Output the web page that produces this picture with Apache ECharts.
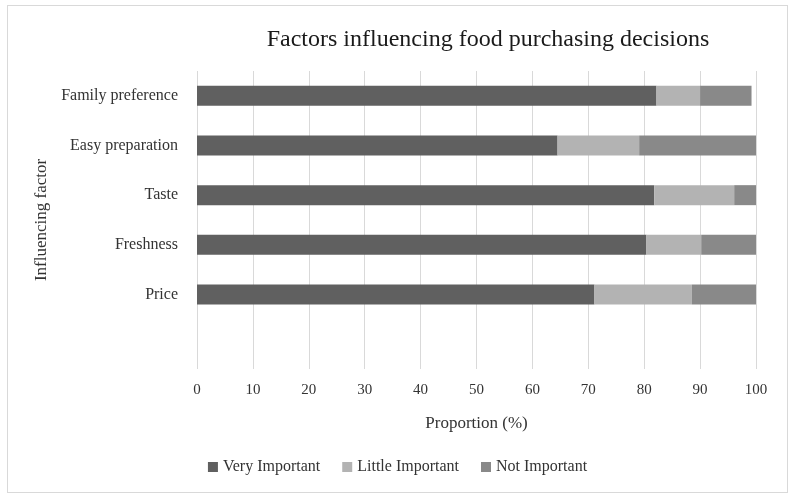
<!DOCTYPE html>
<html>
<head>
<meta charset="utf-8">
<script src="https://cdn.jsdelivr.net/npm/echarts@6/dist/echarts.min.js"></script>
<style>
  html, body { margin: 0; padding: 0; background: #fff; }
  #frame { position: absolute; left: 7px; top: 5px; width: 779px; height: 486px; border: 1px solid #d9d9d9; }
  #chart { width: 795px; height: 499px; }
</style>
</head>
<body>
<div id="frame"></div>
<div id="chart"></div>
<script>
// bottom category is an empty row, as in the original sheet
const factors = ['', 'Price', 'Freshness', 'Taste', 'Easy preparation', 'Family preference'];
const veryImportant = ['-', 71.1, 80.4, 81.8, 64.5, 82.2];
const littleImportant = ['-', 17.4, 9.8, 14.3, 14.6, 7.8];
const notImportant = ['-', 11.5, 9.8, 3.9, 20.9, 9.2];
const xTicks = [0, 10, 20, 30, 40, 50, 60, 70, 80, 90, 100];

const font = 'Liberation Serif';
let chart = echarts.init(document.getElementById('chart'));

let option = {
  backgroundColor: 'transparent',
  title: {
    text: 'Factors influencing food purchasing decisions',
    left: 483,
    top: 23,
    textAlign: 'center',
    textStyle: { fontFamily: font, fontSize: 24, fontWeight: 'normal', color: '#1a1a1a' }
  },
  legend: {
    data: ['Very Important', 'Little Important', 'Not Important'],
    left: 'center',
    top: 454,
    itemWidth: 10,
    itemHeight: 10,
    itemGap: 22,
    icon: 'rect',
    textStyle: { fontFamily: font, fontSize: 16, color: '#333' }
  },
  grid: { left: 197, right: 39, top: 71, bottom: 130 },
  xAxis: {
    type: 'value',
    min: xTicks[0],
    max: xTicks[xTicks.length - 1],
    interval: 10,
    name: 'Proportion (%)',
    nameLocation: 'middle',
    nameGap: 46,
    nameTextStyle: { fontFamily: font, fontSize: 17, color: '#333' },
    axisLine: { show: false },
    axisTick: { show: false },
    axisLabel: { fontFamily: font, fontSize: 15, color: '#333', margin: 14 },
    splitLine: { lineStyle: { color: '#d9d9d9', width: 1 } }
  },
  yAxis: {
    type: 'category',
    data: factors,
    name: 'Influencing factor',
    nameLocation: 'middle',
    nameGap: 146,
    nameTextStyle: { fontFamily: font, fontSize: 17, color: '#333' },
    axisLine: { show: false },
    axisTick: { show: false },
    axisLabel: { fontFamily: font, fontSize: 16, color: '#333', margin: 19 }
  },
  series: [
    { name: 'Very Important', type: 'bar', stack: 'all', barWidth: 20, data: veryImportant, itemStyle: { color: '#606060' } },
    { name: 'Little Important', type: 'bar', stack: 'all', barWidth: 20, data: littleImportant, itemStyle: { color: '#b3b3b3' } },
    { name: 'Not Important', type: 'bar', stack: 'all', barWidth: 20, data: notImportant, itemStyle: { color: '#898989' } }
  ]
};

option && chart.setOption(option);
</script>
</body>
</html>
